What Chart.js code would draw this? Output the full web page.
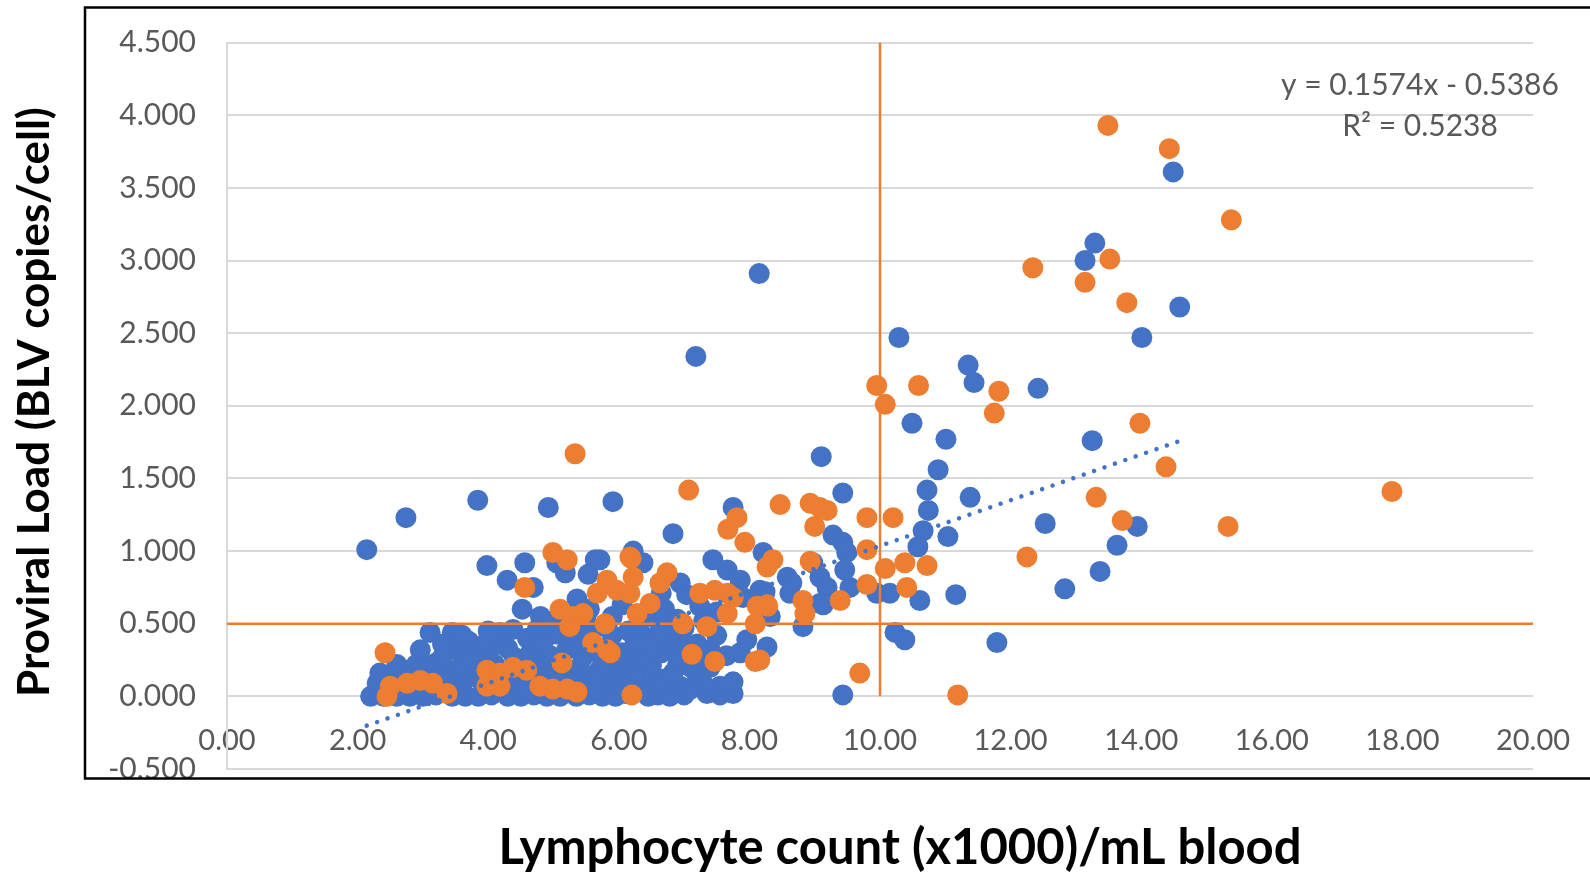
<!DOCTYPE html>
<html>
<head>
<meta charset="utf-8">
<script src="https://cdn.jsdelivr.net/npm/chart.js@4.4.0/dist/chart.umd.min.js"></script>
<style>
  html, body { margin: 0; padding: 0; background: #fff; overflow: hidden; }
  canvas { display: block; }
</style>
</head>
<body>
<canvas id="plot" width="1590" height="873"></canvas>
<script>
// lymphocyte count (x1000/mL) vs proviral load (BLV copies/cell)
const xTickValues = [0, 2, 4, 6, 8, 10, 12, 14, 16, 18, 20];
const yTickValues = [-0.5, 0, 0.5, 1, 1.5, 2, 2.5, 3, 3.5, 4, 4.5];

const xTitle = "Lymphocyte count (x1000)/mL blood";
const yTitle = "Proviral Load (BLV copies/cell)";

// fitted line printed on the chart
const fitSlope = 0.1574;
const fitIntercept = -0.5386;
const fitR2 = 0.5238;

// cut-offs: 10 x1000 lymphocytes, 0.5 copies/cell
const cutoffX = 10;
const cutoffY = 0.5;

const bluePoints = [
  // outliers / upper group
  [2.14,1.01],[2.74,1.23],[3.84,1.35],[4.92,1.30],[5.91,1.34],[7.18,2.34],[8.15,2.91],
  [6.83,1.12],[7.75,1.30],[9.10,1.65],[9.43,1.40],[10.29,2.47],[10.49,1.88],[11.35,2.28],
  [11.44,2.16],[12.42,2.12],[11.01,1.77],[13.25,1.76],[10.89,1.56],[10.72,1.42],[10.74,1.28],
  [11.38,1.37],[10.66,1.14],[10.58,1.03],[11.04,1.10],[12.53,1.19],[13.94,1.17],[13.63,1.04],
  [13.37,0.86],[12.83,0.74],[11.16,0.70],[10.61,0.66],[11.79,0.37],[10.23,0.44],[10.38,0.39],
  [14.49,3.61],[13.29,3.12],[13.14,3.00],[14.59,2.68],[14.01,2.47],[9.43,0.01],
  // middle band
  [3.98,0.90],[4.29,0.80],[4.56,0.92],[4.69,0.75],[5.05,0.92],[5.18,0.85],[5.64,0.94],
  [5.53,0.84],[5.71,0.94],[6.22,1.00],[6.37,0.92],[7.44,0.94],[7.66,0.87],[7.86,0.80],
  [7.81,0.73],[8.21,0.99],[8.58,0.82],[8.65,0.78],[8.62,0.71],[9.08,0.82],[9.19,0.75],
  [9.08,0.64],[8.97,0.92],[9.28,1.11],[9.43,1.06],[9.49,0.99],[9.46,0.87],[9.54,0.75],
  [9.95,0.71],[10.15,0.71],[6.94,0.78],[7.04,0.70],[7.24,0.62],[6.65,0.71],[6.70,0.60],
  [7.90,0.68],[8.16,0.73],[8.24,0.72],[8.32,0.55],[8.82,0.48],[9.13,0.63],
  [4.52,0.60],[4.80,0.55],[5.00,0.52],[5.36,0.67],[5.55,0.60],[5.90,0.55],[6.05,0.63],
  [6.35,0.56],[6.90,0.53],[7.50,0.58],[7.30,0.52],
  // dense low cluster
  [2.20,0.00],[2.40,0.00],[2.60,0.00],[2.80,0.00],[3.00,0.00],[3.20,0.01],[3.45,0.00],
  [3.65,0.00],[3.85,0.00],[4.05,0.01],[4.30,0.00],[4.50,0.00],[4.70,0.01],[4.90,0.00],
  [5.10,0.00],[5.35,0.00],[5.55,0.01],[5.75,0.00],[5.95,0.00],[6.10,0.02],[6.45,0.00],
  [6.60,0.01],[6.78,0.00],[7.00,0.01],[7.35,0.02],[7.55,0.01],[7.75,0.02],
  [2.30,0.09],[2.55,0.10],[2.85,0.08],[3.10,0.07],[3.35,0.10],[3.60,0.08],[3.90,0.11],
  [4.15,0.09],[4.45,0.10],[4.65,0.08],[5.00,0.10],[5.25,0.12],[5.50,0.09],[5.80,0.10],
  [6.05,0.08],[6.30,0.11],[6.55,0.09],[6.94,0.07],[7.55,0.07],
  [2.50,0.04],[2.70,0.05],[2.95,0.04],[3.15,0.13],[3.40,0.05],[3.70,0.13],[3.95,0.05],
  [4.25,0.14],[4.55,0.05],[4.75,0.14],[4.95,0.07],[5.15,0.06],[5.45,0.14],[5.65,0.05],
  [5.90,0.15],[6.15,0.13],[6.35,0.04],[6.70,0.12],[6.90,0.22],[7.10,0.05],[7.30,0.08],
  [2.34,0.16],[2.77,0.18],[3.05,0.20],[3.30,0.17],[3.55,0.19],[3.80,0.16],[4.10,0.22],
  [4.50,0.24],[4.80,0.20],[5.05,0.17],[5.40,0.20],[5.70,0.18],[6.00,0.20],[6.25,0.17],
  [6.50,0.21],[6.83,0.16],[7.20,0.14],[7.40,0.20],[7.75,0.10],
  [2.60,0.22],[2.90,0.22],[3.20,0.23],[3.85,0.22],[4.40,0.27],[4.60,0.20],[5.10,0.25],
  [6.10,0.24],[7.10,0.20],
  [2.96,0.32],[3.30,0.27],[3.57,0.30],[3.75,0.26],[4.00,0.30],[4.30,0.33],[4.65,0.30],
  [4.95,0.28],[5.20,0.32],[5.45,0.27],[5.75,0.25],[6.05,0.30],[6.35,0.28],[6.65,0.30],
  [6.95,0.27],[7.25,0.25],[7.65,0.28],[7.86,0.30],
  [3.45,0.35],[4.15,0.36],[4.85,0.30],[5.30,0.36],[5.55,0.34],[5.85,0.34],[6.25,0.37],
  [6.55,0.34],[6.80,0.36],[7.05,0.33],[7.40,0.32],
  [3.11,0.44],[3.45,0.44],[3.70,0.38],[3.95,0.36],[4.18,0.44],[4.38,0.46],[4.60,0.40],
  [4.85,0.38],[5.05,0.43],[5.35,0.40],[5.60,0.45],[5.90,0.42],[6.15,0.45],[6.45,0.40],
  [6.70,0.44],[6.95,0.40],[7.20,0.36],[7.50,0.42],[7.96,0.39],[8.27,0.34],
  [3.30,0.36],[3.60,0.42],[4.00,0.45],[4.75,0.46],[5.20,0.48],[5.50,0.52],[5.80,0.48],
  [6.30,0.48],[6.60,0.52],[7.00,0.47]
];

const orangePoints = [
  [2.42,0.30],[5.33,1.67],[7.07,1.42],[9.95,2.14],[10.08,2.01],[10.59,2.14],[11.82,2.10],
  [11.75,1.95],[12.34,2.95],[13.14,2.85],[13.49,3.93],[14.43,3.77],[13.52,3.01],[13.78,2.71],
  [15.38,3.28],[13.98,1.88],[14.38,1.58],[13.31,1.37],[13.71,1.21],[15.33,1.17],[17.84,1.41],
  [12.25,0.96],[11.19,0.01],[9.69,0.16],
  [8.47,1.32],[8.93,1.33],[9.08,1.30],[9.19,1.28],[9.00,1.17],[9.80,1.23],[10.20,1.23],
  [9.80,1.01],[10.08,0.88],[10.38,0.92],[10.72,0.90],[8.93,0.93],[8.36,0.94],[8.27,0.89],
  [9.80,0.77],[10.41,0.75],[9.39,0.66],[8.82,0.66],[8.85,0.57],[8.28,0.62],[8.16,0.25],
  [7.81,1.23],[7.67,1.15],[7.93,1.06],[6.19,0.95],[6.74,0.85],[6.63,0.78],[6.17,0.71],
  [6.48,0.64],[6.28,0.57],[7.24,0.71],[7.47,0.73],[7.66,0.71],[7.75,0.68],[7.66,0.57],
  [7.35,0.48],[8.12,0.62],[8.27,0.63],[8.09,0.50],[6.98,0.50],[7.12,0.29],[7.47,0.24],
  [8.09,0.24],[5.79,0.50],
  [4.99,0.99],[5.21,0.94],[4.56,0.75],[5.10,0.60],[5.30,0.55],[5.45,0.57],[5.25,0.48],
  [5.82,0.80],[5.97,0.73],[5.67,0.71],[6.17,0.96],[6.22,0.82],[5.60,0.37],[5.82,0.32],
  [5.87,0.30],[5.13,0.23],[3.98,0.18],[4.18,0.16],[4.38,0.20],[4.59,0.18],[3.98,0.07],
  [4.18,0.07],[4.79,0.07],[4.99,0.05],[5.21,0.05],[5.36,0.03],[6.20,0.01],[2.50,0.07],
  [2.76,0.09],[2.96,0.11],[3.15,0.09],[3.37,0.02],[2.45,0.00]
];

const BLUE = "#4472C4";
const ORANGE = "#ED7D31";
const GRID = "#D9D9D9";
const LABEL = "#595959";

const toXY = pts => pts.map(p => ({ x: p[0], y: p[1] }));

// trend line runs over the blue series' x range
const blueXs = bluePoints.map(p => p[0]);
const fitFrom = Math.min(...blueXs), fitTo = Math.max(...blueXs);
const fitLine = [fitFrom, fitTo].map(x => ({ x, y: fitSlope * x + fitIntercept }));

// keep the tick labels from pushing the plot area around
const noScalePadding = s => { s.paddingTop = 0; s.paddingBottom = 0; s.paddingLeft = 0; s.paddingRight = 0; };

const framePlugin = {
  id: "frame",
  afterDraw(chart){
    const { ctx } = chart;
    ctx.save();
    // anything hanging below the frame is cut off
    ctx.fillStyle = "#fff";
    ctx.fillRect(0, 779, chart.width, chart.height - 779);
    ctx.strokeStyle = "#000";
    ctx.lineWidth = 2.5;
    ctx.strokeRect(85, 7.5, chart.width, 771);

    // regression equation
    ctx.fillStyle = LABEL;
    ctx.font = "30px Lato";
    ctx.textAlign = "center";
    ctx.textBaseline = "middle";
    ctx.fillText(`y = ${fitSlope}x - ${Math.abs(fitIntercept)}`, 1420, 85);
    ctx.fillText(`R\u00B2 = ${fitR2}`, 1420, 126);

    // axis titles
    ctx.fillStyle = "#000";
    ctx.font = "bold 49px Lato";
    ctx.textBaseline = "alphabetic";
    ctx.fillText(xTitle, 900, 864);
    ctx.translate(49, 402);
    ctx.rotate(-Math.PI / 2);
    ctx.font = "bold 44px Lato";
    ctx.fillText(yTitle, 0, 0);
    ctx.restore();
  }
};

new Chart(document.getElementById("plot"), {
  type: "scatter",
  data: {
    datasets: [
      { label: "trend", data: fitLine, showLine: true, pointRadius: 0,
        borderColor: BLUE, borderWidth: 4.5, borderDash: [0.01, 11], borderCapStyle: "round", order: 0 },
      { label: "cutoff x", data: [{ x: cutoffX, y: 0 }, { x: cutoffX, y: 4.5 }], showLine: true,
        pointRadius: 0, borderColor: ORANGE, borderWidth: 2.5, order: 0 },
      { label: "cutoff y", data: [{ x: 0, y: cutoffY }, { x: 20, y: cutoffY }], showLine: true,
        pointRadius: 0, borderColor: ORANGE, borderWidth: 2.5, order: 0 },
      { label: "orange", data: toXY(orangePoints), pointRadius: 10.5, pointBorderWidth: 0,
        pointBackgroundColor: ORANGE, order: 1 },
      { label: "blue", data: toXY(bluePoints), pointRadius: 10.5, pointBorderWidth: 0,
        pointBackgroundColor: BLUE, order: 2 }
    ]
  },
  options: {
    responsive: false,
    animation: false,
    events: [],
    layout: { padding: { left: 0, top: 42.6, right: 57, bottom: 104 } },
    plugins: { legend: { display: false }, tooltip: { enabled: false } },
    scales: {
      x: {
        type: "linear", min: 0, max: 20, position: { y: 0 },
        afterBuildTicks: s => { s.ticks = xTickValues.map(v => ({ value: v })); },
        afterFit: noScalePadding,
        ticks: { callback: v => v.toFixed(2), color: LABEL, font: { family: "Lato", size: 29 },
                 padding: 19, maxRotation: 0, autoSkip: false },
        grid: { display: false },
        border: { display: false }
      },
      y: {
        type: "linear", min: -0.5, max: 4.5,
        afterBuildTicks: s => { s.ticks = yTickValues.map(v => ({ value: v })); },
        afterFit: s => { s.width = 227; noScalePadding(s); },
        ticks: { callback: v => v.toFixed(3), color: LABEL, font: { family: "Lato", size: 30 },
                 padding: 31, autoSkip: false },
        grid: { color: GRID, lineWidth: 2, drawTicks: false },
        border: { color: GRID, width: 2 }
      }
    }
  },
  plugins: [framePlugin]
});
</script>
</body>
</html>
